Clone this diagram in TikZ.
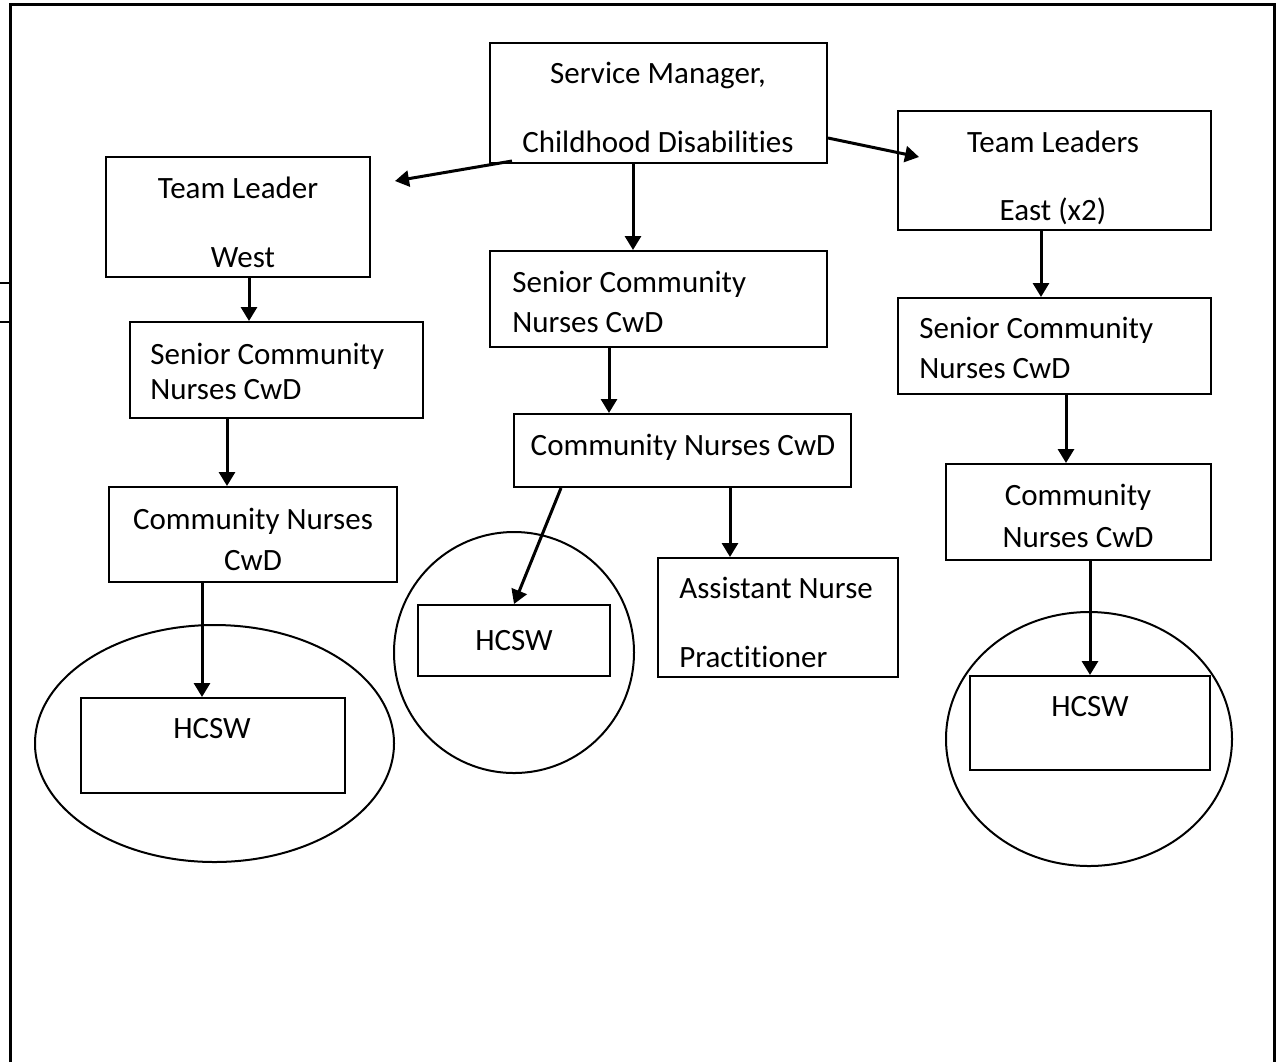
\documentclass[tikz,border=0pt]{standalone}
\usepackage{fontspec}
\setmainfont{Carlito}[Ligatures=NoCommon]
\usetikzlibrary{arrows.meta,fit,calc,shapes.geometric}
\begin{document}
\begin{tikzpicture}[x=0.5pt,y=-0.5pt,
  box/.style={draw, line width=1pt, inner sep=0pt},
  oval/.style={draw, ellipse, line width=1pt, inner sep=0pt},
  lbl/.style={inner sep=0pt, anchor=base, font=\fontsize{15.5}{18}\selectfont},
  lbll/.style={lbl, anchor=base west},
  arr/.style={line width=1.5pt, -{Triangle[length=7pt,width=8pt]}},
  frame/.style={line width=1.5pt}]
\useasboundingbox (0,0) rectangle (1279,1062);
% outer frame
\coordinate (fa) at (10,1062);
\coordinate (fb) at (10,4);
\coordinate (fc) at (1274,4);
\coordinate (fd) at (1274,1062);
\draw[frame] (fa) -- (fb) -- (fc) -- (fd);
\coordinate (s1a) at (0,283);
\coordinate (s1b) at (10,283);
\coordinate (s2a) at (0,322);
\coordinate (s2b) at (10,322);
\draw[line width=1pt] (s1a) -- (s1b);
\draw[line width=1pt] (s2a) -- (s2b);
% ellipses
\node[oval, minimum width=179.5pt, minimum height=118.5pt] (ellW) at (214.5,743.5) {};
\node[oval, minimum width=120pt, minimum height=120.5pt] (ellM) at (514,652.5) {};
\node[oval, minimum width=143pt, minimum height=127pt] (ellE) at (1089,739) {};
% boxes
\node[box, fit={(490,43) (827,163)}] (sm) {};
\node[box, fit={(106,157) (370,277)}] (tlw) {};
\node[box, fit={(898,111) (1211,230)}] (tle) {};
\node[box, fit={(490,251) (827,347)}] (senM) {};
\node[box, fit={(130,322) (423,418)}] (senw) {};
\node[box, fit={(898,298) (1211,394)}] (sene) {};
\node[box, fit={(514,414) (851,487)}] (cnm) {};
\node[box, fit={(109,487) (397,582)}] (cnw) {};
\node[box, fit={(946,464) (1211,560)}] (cne) {};
\node[box, fit={(658,558) (898,677)}] (anp) {};
\node[box, fit={(418,605) (610,676)}] (hcswM) {};
\node[box, fit={(81,698) (345,793)}] (hcswW) {};
\node[box, fit={(970,676) (1210,770)}] (hcswE) {};
% texts
\node[lbl] (t1) at (658,83) {Service Manager,};
\node[lbl] (t2) at (658,152) {Childhood Disabilities};
\node[lbl] (t3) at (238,198) {Team Leader};
\node[lbl] (t4) at (243,267) {West};
\node[lbl] (t5) at (1053,152) {Team Leaders};
\node[lbl] (t6) at (1053,220) {East (x2)};
\node[lbll] (t7) at (512,292) {Senior Community};
\node[lbll] (t8) at (512,332) {Nurses CwD};
\node[lbll] (t9) at (150,364) {Senior Community};
\node[lbll] (t10) at (150,399) {Nurses CwD};
\node[lbll] (t11) at (919,338) {Senior Community};
\node[lbll] (t12) at (919,378) {Nurses CwD};
\node[lbl] (t13) at (683,455) {Community Nurses CwD};
\node[lbl] (t14) at (253,529) {Community Nurses};
\node[lbl] (t15) at (253,570) {CwD};
\node[lbl] (t16) at (1078,505) {Community};
\node[lbl] (t17) at (1078,547) {Nurses CwD};
\node[lbll] (t18) at (679,598) {Assistant Nurse};
\node[lbll] (t19) at (679,667) {Practitioner};
\node[lbl] (t20) at (514,650) {HCSW};
\node[lbl] (t21) at (212,738) {HCSW};
\node[lbl] (t22) at (1090,716) {HCSW};
% arrows
\coordinate (tipW) at (395,181);
\draw[arr] ($(sm.south west)+(23,-3)$) -- (tipW);
\draw[arr] ($(sm.south east)+(0,-26)$) -- ($(tle.north west)+(22,47)$);
\draw[arr] ($(sm.south west)+(144,-2)$) -- ($(senM.north west)+(144,0)$);
\draw[arr] ($(tlw.south west)+(144,0)$) -- ($(senw.north west)+(120,0)$);
\draw[arr] ($(tle.south west)+(144,0)$) -- ($(sene.north west)+(144,0)$);
\draw[arr] ($(senM.south west)+(120,0)$) -- ($(cnm.north west)+(96,0)$);
\draw[arr] ($(senw.south west)+(98,0)$) -- ($(cnw.north west)+(119,0)$);
\draw[arr] ($(sene.south west)+(169,0)$) -- ($(cne.north west)+(121,0)$);
\draw[arr] ($(cnm.south west)+(48,0)$) -- ($(hcswM.north west)+(97,0)$);
\draw[arr] ($(cnm.south west)+(217,0)$) -- ($(anp.north west)+(73,0)$);
\draw[arr] ($(cnw.south west)+(94,0)$) -- ($(hcswW.north west)+(122,0)$);
\draw[arr] ($(cne.south west)+(145,0)$) -- ($(hcswE.north west)+(121,0)$);
\end{tikzpicture}
\end{document}
